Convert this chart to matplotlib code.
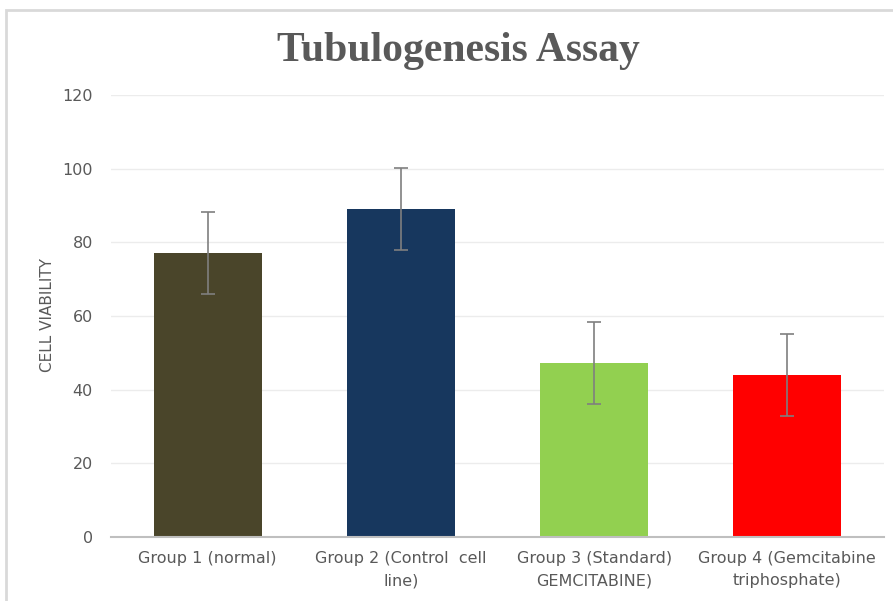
import matplotlib.pyplot as plt
from matplotlib.patches import Rectangle

# values
groups = ["Group 1 (normal)", "Group 2 (Control  cell\nline)",
          "Group 3 (Standard)\nGEMCITABINE)", "Group 4 (Gemcitabine\ntriphosphate)"]
viability = [77, 89, 47.2, 44]
errors = [11.1, 11.2, 11.1, 11.2]
bar_colors = ["#4a452a", "#17375e", "#92d050", "#ff0000"]
y_ticks = [0, 20, 40, 60, 80, 100, 120]

TEXT_GREY = "#595959"
FONT = ["Liberation Sans Narrow", "DejaVu Sans"]

plt.rcParams["font.family"] = FONT


def main():
    fig = plt.figure(figsize=(8.93, 6.01), dpi=100)
    ax = fig.add_axes([111 / 893, 1 - 537 / 601, (884 - 111) / 893, (537 - 95) / 601])

    # chart border as in the spreadsheet export
    fig.patches.append(Rectangle((6 / 893, -0.05), 1.0, 1 - 10 / 601 + 0.05,
                                 transform=fig.transFigure, fill=False,
                                 edgecolor="#d9d9d9", linewidth=2))

    x = range(len(groups))
    ax.bar(x, viability, width=0.56, color=bar_colors, zorder=2)
    ax.errorbar(x, viability, yerr=errors, fmt="none", ecolor="#7f7f7f",
                elinewidth=1.2, capsize=5, capthick=1.2, zorder=3)

    ax.set_xlim(-0.5, len(groups) - 0.5)
    ax.set_ylim(0, 120)
    ax.set_yticks(y_ticks)
    ax.set_xticks(list(x))
    ax.set_xticklabels(groups, fontsize=11.5, color=TEXT_GREY, linespacing=1.6)
    ax.tick_params(axis="y", labelsize=11.5, colors=TEXT_GREY, length=0, pad=13)
    ax.tick_params(axis="x", length=0, pad=10)

    ax.grid(axis="y", color="#ececec", linewidth=1, zorder=0)
    for side in ["top", "right", "left"]:
        ax.spines[side].set_visible(False)
    ax.spines["bottom"].set_color("#bfbfbf")
    ax.spines["bottom"].set_linewidth(1.5)

    fig.text(47 / 893, 1 - 315 / 601, "CELL VIABILITY", rotation=90,
             ha="center", va="center", fontsize=11, color=TEXT_GREY)
    fig.text(458 / 893, 1 - 51 / 601, "Tubulogenesis Assay", ha="center",
             va="center", fontsize=30, fontweight="bold", color=TEXT_GREY,
             family=["Liberation Serif", "DejaVu Serif"])

    fig.savefig("out.png", dpi=100)
    plt.close(fig)


if __name__ == "__main__":
    main()
